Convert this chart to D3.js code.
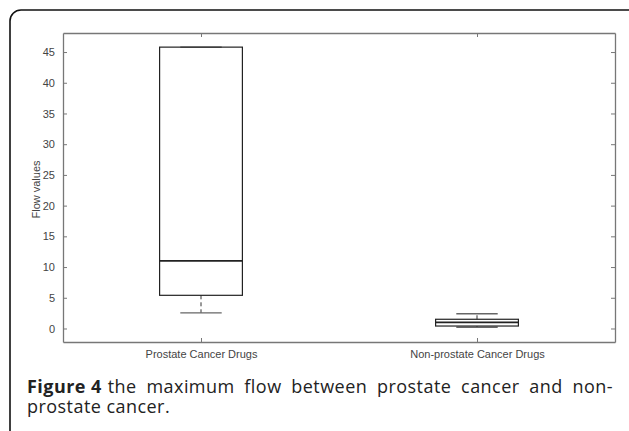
<!doctype html>
<html>
<head>
<meta charset="UTF-8">
<script src="https://d3js.org/d3.v7.min.js"></script>
<style>
  body { margin: 0; background: #fff; }
  svg { display: block; }
</style>
</head>
<body>
<script>
// box plot values
const groups = ["Prostate Cancer Drugs", "Non-prostate Cancer Drugs"];
const positions = [1, 2];
const lowerWhisker = [2.55, 0.2];
const q1 = [5.4, 0.4];
const median = [11.0, 1.0];
const q3 = [45.8, 1.5];
const upperWhisker = [45.8, 2.4];
const yTicks = [0, 5, 10, 15, 20, 25, 30, 35, 40, 45];

(function(){
const W = 629, H = 431;
const margin = { top: 33, left: 63, right: 14, bottom: 89 };
const plotW = W - margin.left - margin.right;
const plotH = H - margin.top - margin.bottom;

const svg = d3.select("body").append("svg")
  .attr("width", W)
  .attr("height", H);

// rounded frame that runs off the bottom of the picture
svg.append("rect")
  .attr("x", 10).attr("y", 10)
  .attr("width", 630).attr("height", 460)
  .attr("rx", 11).attr("ry", 11)
  .attr("fill", "none")
  .attr("stroke", "#111")
  .attr("stroke-width", 1.6);

const x = d3.scaleLinear().domain([0.5, 2.5]).range([0, plotW]);
const y = d3.scaleLinear().domain([-2.2, 48.1]).range([plotH, 0]);

const g = svg.append("g")
  .attr("transform", "translate(" + margin.left + "," + margin.top + ")");

const axisColor = "#777";
const textColor = "#444";
const font = "Liberation Sans, Arial, sans-serif";

// axes with inward ticks on all four sides
const leftAx = g.append("g")
  .call(d3.axisLeft(y).tickValues(yTicks).tickSizeInner(-4).tickSizeOuter(0).tickPadding(8));
const rightAx = g.append("g")
  .attr("transform", "translate(" + plotW + ",0)")
  .call(d3.axisRight(y).tickValues(yTicks).tickSizeInner(-4).tickSizeOuter(0).tickFormat(""));
const bottomAx = g.append("g")
  .attr("transform", "translate(0," + plotH + ")")
  .call(d3.axisBottom(x).tickValues(positions).tickSizeInner(-4).tickSizeOuter(0)
    .tickPadding(8).tickFormat(function(d, i){ return groups[i]; }));
const topAx = g.append("g")
  .call(d3.axisTop(x).tickValues(positions).tickSizeInner(-4).tickSizeOuter(0).tickFormat(""));

[leftAx, rightAx, bottomAx, topAx].forEach(function(a){
  a.selectAll("path.domain").attr("stroke", axisColor).attr("stroke-width", 1.3);
  a.selectAll(".tick line").attr("stroke", axisColor);
  a.selectAll(".tick text")
    .attr("fill", textColor)
    .style("font-family", font)
    .style("font-size", "11px");
});

g.append("text")
  .attr("transform", "rotate(-90)")
  .attr("x", -plotH / 2 - 2)
  .attr("y", -23)
  .attr("text-anchor", "middle")
  .attr("fill", textColor)
  .style("font-family", font)
  .style("font-size", "11px")
  .text("Flow values");

// boxes
const boxW = x(1.15) - x(0.85);
const capW = x(1.075) - x(0.925);
const data = groups.map(function(name, i){
  return { pos: positions[i], lo: lowerWhisker[i], q1: q1[i], med: median[i], q3: q3[i], hi: upperWhisker[i] };
});

const boxes = g.selectAll("g.box").data(data).enter().append("g").attr("class", "box");

boxes.append("line")
  .attr("x1", function(d){ return x(d.pos); })
  .attr("x2", function(d){ return x(d.pos); })
  .attr("y1", function(d){ return y(d.q1); })
  .attr("y2", function(d){ return y(d.lo); })
  .attr("stroke", "#333").attr("stroke-dasharray", "4,3");
boxes.append("line")
  .attr("x1", function(d){ return x(d.pos); })
  .attr("x2", function(d){ return x(d.pos); })
  .attr("y1", function(d){ return y(d.q3); })
  .attr("y2", function(d){ return y(d.hi); })
  .attr("stroke", "#333").attr("stroke-dasharray", "4,3");

boxes.append("line")
  .attr("x1", function(d){ return x(d.pos) - capW / 2; })
  .attr("x2", function(d){ return x(d.pos) + capW / 2; })
  .attr("y1", function(d){ return y(d.lo); })
  .attr("y2", function(d){ return y(d.lo); })
  .attr("stroke", "#666").attr("stroke-width", 1.3);
boxes.append("line")
  .attr("x1", function(d){ return x(d.pos) - capW / 2; })
  .attr("x2", function(d){ return x(d.pos) + capW / 2; })
  .attr("y1", function(d){ return y(d.hi); })
  .attr("y2", function(d){ return y(d.hi); })
  .attr("stroke", "#666").attr("stroke-width", 1.3);

boxes.append("rect")
  .attr("x", function(d){ return x(d.pos) - boxW / 2; })
  .attr("width", boxW)
  .attr("y", function(d){ return y(d.q3); })
  .attr("height", function(d){ return y(d.q1) - y(d.q3); })
  .attr("fill", "none")
  .attr("stroke", "#222")
  .attr("stroke-width", 1.2);

boxes.append("line")
  .attr("x1", function(d){ return x(d.pos) - boxW / 2; })
  .attr("x2", function(d){ return x(d.pos) + boxW / 2; })
  .attr("y1", function(d){ return y(d.med); })
  .attr("y2", function(d){ return y(d.med); })
  .attr("stroke", "#222")
  .attr("stroke-width", 1.6);

// caption in one text element, first line justified to the frame width
const caption = svg.append("text")
  .attr("x", 27).attr("y", 393)
  .attr("fill", "#222")
  .style("font-family", "Open Sans, sans-serif")
  .style("font-size", "18px")
  .style("letter-spacing", "0.45px");

const figLabel = caption.append("tspan")
  .attr("font-weight", "bold")
  .text("Figure 4");
const labelEnd = 27 + figLabel.node().getComputedTextLength();

const rest = "the maximum flow between prostate cancer and non-";
const line1 = caption.append("tspan")
  .attr("x", labelEnd + 6)
  .text(rest);
const natural = line1.node().getComputedTextLength();
const gaps = rest.split(" ").length - 1;
line1.style("word-spacing", Math.max(0, (613 - labelEnd - 6 - natural) / gaps) + "px");

caption.append("tspan")
  .attr("x", 27).attr("dy", 20)
  .style("word-spacing", "0px")
  .text("prostate cancer.");
})();
</script>
</body>
</html>
